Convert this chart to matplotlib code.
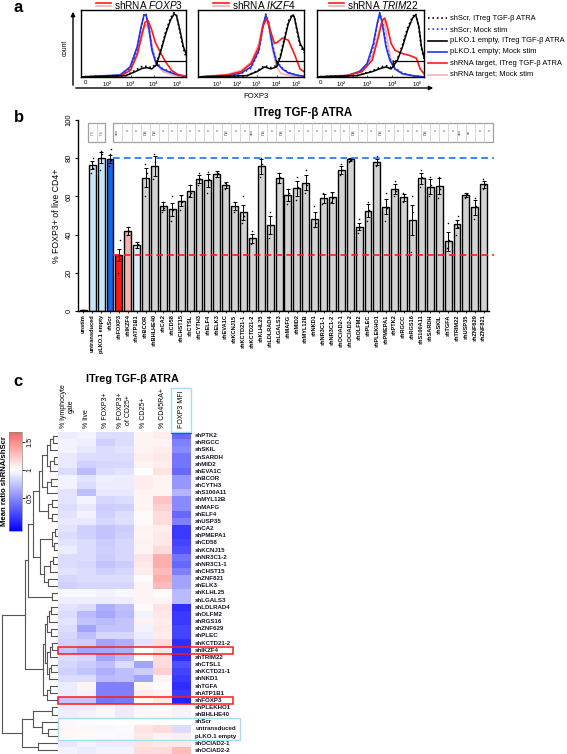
import numpy as np
import matplotlib
matplotlib.use('Agg')
import matplotlib.pyplot as plt
from matplotlib.patches import Rectangle, FancyArrowPatch
from matplotlib.lines import Line2D
from matplotlib.colors import Normalize
from matplotlib.cm import ScalarMappable

plt.rcParams['font.family'] = ['Liberation Sans', 'DejaVu Sans']
plt.rcParams['mathtext.fontset'] = 'custom'
plt.rcParams['mathtext.rm'] = 'Liberation Sans'
plt.rcParams['mathtext.it'] = 'Liberation Sans:italic'
plt.rcParams['mathtext.bf'] = 'Liberation Sans:bold'

W, H = 567, 754

# ---------------- panel a: FOXP3 histograms (x in decades, y in % of max) ----------------
foxp3_hist = {
    'mock_x': [0.9, 2.55, 2.98, 3.28, 3.45, 3.57, 3.66, 3.79, 3.91, 4.09, 4.34, 4.68, 5.02, 5.36],
    'plko_mock': [0, 3, 15, 45, 75, 92, 93, 70, 40, 20, 12, 7, 3, 1],
    'scr_mock': [0, 2, 12, 40, 72, 94, 95, 72, 42, 22, 13, 8, 3, 1],
    'itreg_x': [0.9, 2.8, 3.2, 3.5, 3.7, 3.9, 4.1, 4.3, 4.5, 4.7, 4.85, 4.95, 5.1, 5.25, 5.36],
    'plko_itreg': [0, 2, 8, 13, 14, 12, 18, 40, 65, 85, 94, 92, 70, 45, 35],
    'scr_itreg': [0, 2, 10, 16, 16, 14, 20, 42, 68, 88, 96, 93, 68, 42, 30],
    'target_itreg_x': [0.9, 2.6, 3.0, 3.3, 3.5, 3.62, 3.75, 3.9, 4.05, 4.25, 4.5, 4.75, 5.0, 5.36],
    'target_itreg': [0, 2, 10, 35, 65, 82, 84, 70, 52, 38, 22, 10, 4, 1],
    'target_mock_x': [0.9, 2.6, 3.0, 3.3, 3.5, 3.65, 3.8, 3.95, 4.1, 4.4, 4.8, 5.36],
    'target_mock': [0, 3, 14, 40, 68, 78, 70, 40, 18, 8, 3, 1],
}
ikzf4_hist = {
    'mock_x': [0, 1.5, 2.2, 2.7, 3.1, 3.3, 3.45, 3.6, 3.8, 4.0, 4.3, 4.6, 5.0, 5.4],
    'plko_mock': [0, 2, 6, 15, 40, 75, 92, 80, 45, 22, 12, 6, 3, 1],
    'scr_mock': [0, 2, 5, 13, 38, 72, 94, 82, 48, 24, 13, 7, 3, 1],
    'itreg_x': [0, 2.5, 3.0, 3.4, 3.7, 4.0, 4.2, 4.4, 4.6, 4.8, 4.9, 5.05, 5.2, 5.4],
    'plko_itreg': [0, 2, 8, 15, 12, 15, 30, 55, 80, 92, 90, 70, 50, 40],
    'scr_itreg': [0, 2, 9, 17, 14, 17, 33, 58, 83, 94, 91, 68, 47, 36],
    'target_itreg_x': [0, 1.5, 2.2, 2.7, 3.1, 3.3, 3.5, 3.7, 3.9, 4.05, 4.3, 4.6, 4.9, 5.2, 5.4],
    'target_itreg': [0, 3, 8, 20, 45, 75, 88, 68, 50, 52, 58, 55, 35, 12, 8],
    'target_mock_x': [0, 1.5, 2.2, 2.7, 3.1, 3.3, 3.45, 3.6, 3.8, 4.0, 4.2, 4.5, 5.0, 5.4],
    'target_mock': [0, 4, 10, 22, 50, 80, 88, 75, 40, 15, 6, 3, 1, 0],
}
trim22_hist = {
    'mock_x': [1.02, 2.2, 2.7, 3.0, 3.25, 3.4, 3.5, 3.6, 3.75, 3.9, 4.1, 4.4, 4.8, 5.25],
    'plko_mock': [0, 2, 8, 20, 50, 80, 95, 80, 45, 25, 12, 5, 2, 0],
    'scr_mock': [0, 2, 7, 18, 46, 78, 96, 83, 48, 27, 13, 6, 2, 0],
    'itreg_x': [1.02, 2.6, 3.2, 3.55, 3.75, 3.95, 4.2, 4.4, 4.6, 4.8, 4.92, 5.05, 5.15, 5.25],
    'plko_itreg': [0, 2, 8, 13, 15, 12, 25, 45, 70, 88, 93, 75, 45, 30],
    'scr_itreg': [0, 2, 9, 15, 17, 14, 27, 48, 73, 90, 95, 72, 42, 27],
    'target_itreg_x': [1.02, 2.2, 2.8, 3.2, 3.45, 3.6, 3.7, 3.8, 3.95, 4.1, 4.4, 4.7, 4.95, 5.1, 5.25],
    'target_itreg': [0, 2, 8, 25, 60, 85, 88, 75, 50, 40, 35, 32, 28, 12, 5],
    'target_mock_x': [1.02, 2.3, 2.8, 3.2, 3.45, 3.6, 3.68, 3.8, 3.95, 4.1, 4.4, 5.25],
    'target_mock': [0, 3, 10, 30, 65, 85, 83, 55, 25, 12, 4, 0],
}
hist_genes = ['FOXP3', 'IKZF4', 'TRIM22']
hist_ticks = [[1.06, 2, 3, 4, 5], [1, 2, 3, 4, 5], [1.14, 1.97, 3, 4, 4.98]]
hist_ticklabels = [['0', '$10^2$', '$10^3$', '$10^4$', '$10^5$'],
                   ['$10^1$', '$10^2$', '$10^3$', '$10^4$', '$10^5$'],
                   ['0', '$10^2$', '$10^3$', '$10^4$', '$10^5$']]
gate_start = [4.1, 4.0, 4.03]
gate_level = 24

legend_labels = ['shScr, ITreg TGF-β ATRA', 'shScr; Mock stim', 'pLKO.1 empty, ITreg TGF-β ATRA',
                 'pLKO.1 empty; Mock stim', 'shRNA target, ITreg TGF-β ATRA', 'shRNA target; Mock stim']

# ---------------- panel b: bar chart ----------------
bar_labels = ['unstim', 'untransduced', 'pLKO.1 empty', 'shScr', 'shFOXP3', 'shIKZF4', 'shATP1B1',
              'shBCOR', 'shBHLHE40', 'shCA2', 'shCD58', 'shCHST15', 'shCTSL', 'shCYTH3', 'shELF4',
              'shELK3', 'shEVA1C', 'shKCNJ15', 'shKCTD21-1', 'shKCTD21-2', 'shKLHL25', 'shLDLRAD4',
              'shLGALS3', 'shMAFG', 'shMID2', 'shMYL12B', 'shNKD1', 'shNR3C1-1', 'shNR3C1-2',
              'shOCIAD2-1', 'shOCIAD2-2', 'shOLFM2', 'shPLEC', 'shPLEKHO1', 'shPMEPA1', 'shPTK2',
              'shRGCC', 'shRGS16', 'shS100A11', 'shSARDH', 'shSKIL', 'shTGFA', 'shTRIM22', 'shUSP35',
              'shZNF629', 'shZNF821']
bar_means = [0.5, 76.4, 80.3, 79.6, 29.3, 42.0, 34.6, 69.8, 75.9, 55.0, 53.2, 57.8, 62.8, 69.1, 68.4,
             71.6, 66.0, 55.0, 51.7, 38.0, 75.8, 45.0, 69.5, 60.7, 64.2, 67.2, 48.0, 59.0, 59.5,
             73.8, 79.4, 44.2, 52.5, 78.2, 54.6, 63.9, 59.5, 47.6, 69.5, 65.1, 65.4, 36.6, 45.4, 60.7,
             54.3, 66.3]
bar_sem = [0.2, 2.0, 3.0, 2.0, 3.0, 2.0, 1.5, 5.0, 5.0, 2.0, 3.5, 3.0, 3.0, 2.0, 3.5, 1.5, 1.5, 2.0,
           4.0, 2.5, 4.0, 4.5, 2.5, 3.0, 4.0, 4.0, 4.0, 2.5, 3.0, 2.0, 0.8, 2.0, 3.5, 1.5, 4.0, 2.5,
           2.0, 8.0, 3.0, 4.0, 4.0, 5.0, 2.0, 1.0, 4.0, 2.0]
bar_reps = [[0.3, 0.5, 0.7], [72, 75, 78, 80], [74, 82, 84], [76, 79, 82, 85], [20, 27, 30, 37],
            [40, 42, 44], [33, 35, 36], [60, 72, 77], [69, 78, 82], [52, 54, 57], [47, 53, 60],
            [53, 57, 60], [60, 62, 66], [66, 69, 72], [62, 69, 73], [70, 72, 73], [64, 66, 67],
            [52, 55, 57], [46, 50, 60], [35, 38, 42], [70, 77, 80], [38, 45, 52], [67, 70, 72],
            [56, 62, 64], [58, 65, 70], [62, 66, 74], [44, 46, 55], [56, 59, 62], [57, 59, 62],
            [71, 74, 77], [78, 79, 80], [41, 44, 48], [47, 53, 57], [76, 78, 81], [47, 54, 62],
            [60, 63, 68], [57, 59, 62], [31, 52, 60], [65, 70, 74], [60, 66, 70], [59, 64, 70],
            [33, 37, 46], [40, 44, 47, 50], [59, 61, 62], [48, 55, 59], [64, 66, 69]]
control_sig = ['ns', 'ns']
knockdown_sig = ['***', '*', '*', 'ns', 'ns', '*', '*', '*', '*', '*', '*', '*', 'ns', '*', '*', '***',
                 'ns', '*', 'ns', '*', '*', '*', '*', '*', '*', '*', 'ns', '*', '*', 'ns', '*', '*',
                 '*', '*', 'ns', '*', '*', '*', '***', '**', '*', '*']
scr_level = 80
foxp3_level = 29.3

# ---------------- panel c: heatmap ----------------
heat_cols = ['% lymphocyte\ngate', '% live', '% FOXP3+', '% FOXP3+\nof CD25+', '% CD25+',
             '% CD45RA+', 'FOXP3 MFI']
heat_rows = ['shPTK2', 'shRGCC', 'shSKIL', 'shSARDH', 'shMID2', 'shEVA1C', 'shBCOR', 'shCYTH3',
             'shS100A11', 'shMYL12B', 'shMAFG', 'shELF4', 'shUSP35', 'shCA2', 'shPMEPA1', 'shCD58',
             'shKCNJ15', 'shNR3C1-2', 'shNR3C1-1', 'shCHST15', 'shZNF821', 'shELK3', 'shKLHL25',
             'shLGALS3', 'shLDLRAD4', 'shOLFM2', 'shRGS16', 'shZNF629', 'shPLEC', 'shKCTD21-2',
             'shIKZF4', 'shTRIM22', 'shCTSL1', 'shKCTD21-1', 'shNKD1', 'shTGFA', 'shATP1B1',
             'shFOXP3', 'shPLEKHO1', 'shBHLHE40', 'shScr', 'untransduced', 'pLKO.1 empty',
             'shOCIAD2-1', 'shOCIAD2-2']
heat_vals = [
    [0.92, 0.95, 0.85, 0.85, 1.05, 1.08, 0.35],
    [0.95, 0.93, 0.80, 0.85, 1.05, 1.05, 0.45],
    [0.95, 0.90, 0.85, 0.88, 1.06, 1.08, 0.50],
    [0.90, 0.85, 0.85, 0.85, 1.08, 1.10, 0.40],
    [0.90, 0.80, 0.82, 0.83, 1.06, 1.08, 0.40],
    [0.85, 0.70, 0.85, 0.88, 1.00, 1.12, 0.35],
    [0.95, 0.88, 0.93, 0.92, 1.08, 1.05, 0.55],
    [0.95, 0.85, 0.92, 0.92, 1.08, 1.05, 0.55],
    [0.88, 0.72, 0.90, 0.90, 1.06, 1.05, 0.68],
    [0.88, 0.95, 0.82, 0.85, 1.05, 1.25, 0.50],
    [0.85, 0.90, 0.78, 0.80, 1.05, 1.20, 0.50],
    [0.88, 0.95, 0.80, 0.85, 1.02, 1.15, 0.35],
    [0.90, 0.90, 0.82, 0.86, 1.03, 1.15, 0.45],
    [0.88, 0.80, 0.75, 0.78, 1.06, 1.08, 0.15],
    [0.85, 0.80, 0.75, 0.80, 1.05, 1.10, 0.15],
    [0.88, 0.85, 0.78, 0.82, 1.06, 1.10, 0.20],
    [0.92, 0.85, 0.80, 0.82, 1.05, 1.15, 0.25],
    [0.85, 0.85, 0.78, 0.82, 1.12, 1.35, 0.40],
    [0.85, 0.82, 0.75, 0.78, 1.10, 1.35, 0.35],
    [0.88, 0.85, 0.80, 0.82, 1.08, 1.30, 0.45],
    [0.82, 0.85, 0.85, 0.85, 1.02, 1.35, 0.60],
    [0.80, 0.82, 0.82, 0.82, 1.05, 1.30, 0.60],
    [0.97, 0.97, 0.95, 0.97, 1.05, 1.02, 0.70],
    [0.93, 0.93, 0.92, 0.93, 1.05, 1.05, 0.70],
    [0.88, 0.85, 0.65, 0.72, 1.02, 1.12, 0.10],
    [0.85, 0.70, 0.62, 0.70, 0.95, 1.10, 0.15],
    [0.88, 0.75, 0.70, 0.75, 1.06, 1.08, 0.15],
    [0.85, 0.60, 0.75, 0.75, 0.95, 1.10, 0.20],
    [0.82, 0.72, 0.82, 0.82, 0.92, 1.08, 0.20],
    [0.80, 0.78, 0.60, 0.65, 0.88, 1.15, 0.10],
    [0.75, 0.60, 0.62, 0.65, 1.00, 1.12, 0.10],
    [0.85, 0.82, 0.60, 0.70, 1.00, 1.15, 0.10],
    [0.82, 0.78, 0.72, 0.85, 0.60, 1.15, 0.25],
    [0.80, 0.75, 0.65, 0.72, 0.78, 1.20, 0.20],
    [0.85, 0.85, 0.70, 0.72, 0.60, 1.05, 0.15],
    [0.92, 1.05, 0.45, 0.45, 1.05, 0.98, 0.10],
    [0.92, 0.95, 0.45, 0.45, 1.08, 1.05, 0.15],
    [0.75, 0.75, 0.40, 0.42, 1.04, 1.10, 0.05],
    [0.92, 0.92, 0.97, 0.92, 1.04, 1.02, 0.95],
    [0.93, 0.95, 0.97, 0.92, 1.02, 1.03, 0.95],
    [0.97, 0.98, 1.00, 1.00, 1.00, 1.00, 1.00],
    [1.04, 1.03, 0.97, 0.98, 1.12, 1.15, 0.85],
    [1.03, 1.02, 0.98, 0.97, 1.10, 1.05, 1.07],
    [0.90, 0.95, 0.92, 0.92, 1.12, 1.10, 1.10],
    [0.95, 0.92, 0.95, 0.95, 1.15, 1.15, 1.30],
]
# row dendrogram: (child a, child b, merge position in px from left); new nodes numbered from 45
dendro_merges = [
    (0, 1, 53), (45, 2, 50), (3, 4, 54), (47, 5, 50), (46, 48, 47), (6, 7, 51), (50, 8, 47),
    (49, 51, 42), (9, 10, 52), (11, 12, 52), (53, 54, 48), (52, 55, 39), (13, 14, 55),
    (15, 16, 54), (57, 58, 52), (17, 18, 53), (60, 19, 50), (20, 21, 48), (61, 62, 44),
    (59, 63, 40), (56, 64, 33), (22, 23, 52), (65, 66, 28), (24, 25, 51), (68, 26, 49),
    (27, 28, 51), (69, 70, 47), (29, 30, 52), (72, 31, 50), (32, 33, 51), (74, 34, 49),
    (73, 75, 47), (71, 76, 45), (35, 36, 50), (78, 37, 47), (77, 79, 43), (67, 80, 25),
    (38, 39, 52), (41, 42, 48), (40, 83, 42), (82, 84, 33), (43, 44, 38), (85, 86, 22),
    (81, 87, 2),
]
red_box_rows = ['shIKZF4', 'shFOXP3']
control_rows = ['shScr', 'untransduced', 'pLKO.1 empty']

# ---------------- drawing ----------------
fig = plt.figure(figsize=(W / 100, H / 100), dpi=100)


def px_axes(x0, y0, x1, y1):
    return fig.add_axes([x0 / W, 1 - y1 / H, (x1 - x0) / W, (y1 - y0) / H])


def fpt(x, y):
    return (x / W, 1 - y / H)


BLUE = '#2233ee'
RED = '#ff1a1a'
PINK = '#f5b3b3'

# panel letters
for letter, (lx, ly) in zip('abc', [(13, 7), (14, 118), (13, 381)]):
    fig.text(*fpt(lx, ly), letter, fontsize=12, fontweight='bold', va='center', ha='left')

# --- panel a ---
hist_boxes = [(81, 186), (198, 304), (317, 424)]
hist_xlims = [(0.89, 5.36), (0.0, 5.4), (1.02, 5.25)]
title_icons = [(96, 111), (213, 229), (329, 344)]
for k, hist in enumerate([foxp3_hist, ikzf4_hist, trim22_hist]):
    x0, x1 = hist_boxes[k]
    ax = px_axes(x0, 10, x1, 77)
    ax.plot(hist['target_mock_x'], hist['target_mock'], color=PINK, lw=1.3)
    ax.plot(hist['mock_x'], hist['plko_mock'], color=BLUE, lw=1.2)
    ax.plot(hist['mock_x'], hist['scr_mock'], color=BLUE, lw=1.2, ls=':')
    ax.plot(hist['target_itreg_x'], hist['target_itreg'], color=RED, lw=1.2)
    ax.plot(hist['itreg_x'], hist['plko_itreg'], color='black', lw=1.1)
    ax.plot(hist['itreg_x'], hist['scr_itreg'], color='black', lw=1.2, ls=':')
    ax.plot([gate_start[k], hist_xlims[k][1]], [gate_level, gate_level], color='black', lw=0.9)
    ax.plot([gate_start[k], gate_start[k] + 0.05], [gate_level, gate_level - 7], color='black', lw=0.9)
    ax.set_xlim(*hist_xlims[k])
    ax.set_ylim(0, 100)
    ax.set_yticks([])
    ax.set_xticks(hist_ticks[k])
    ax.set_xticklabels(hist_ticklabels[k], fontsize=4.4)
    ax.tick_params(axis='x', direction='in', length=1.5, width=0.5, pad=2)
    for s in ax.spines.values():
        s.set_linewidth(1.0)
    ix0, ix1 = title_icons[k]
    fig.add_artist(Line2D([ix0 / W, ix1 / W], [1 - 3.3 / H, 1 - 3.3 / H], color=RED, lw=1.2))
    fig.add_artist(Line2D([ix0 / W, ix1 / W], [1 - 6.0 / H, 1 - 6.0 / H], color=PINK, lw=1.2))
    fig.text(*fpt(ix1 + 3, 5), r'shRNA $\it{%s}$' % hist_genes[k], fontsize=7.2, va='center', ha='left')

# overall axes arrows for panel a
fig.add_artist(FancyArrowPatch(fpt(73, 88), fpt(73, 9), transform=fig.transFigure,
                               arrowstyle='-|>', mutation_scale=6, lw=1.0, color='black'))
fig.add_artist(FancyArrowPatch(fpt(73, 88), fpt(436, 88), transform=fig.transFigure,
                               arrowstyle='-|>', mutation_scale=6, lw=1.0, color='black'))
fig.text(*fpt(65, 48), 'count', fontsize=4.8, rotation=90, va='center', ha='center')
fig.text(*fpt(256, 97), 'FOXP3', fontsize=5.6, va='center', ha='center')

# legend for panel a
leg_styles = [('black', ':'), (BLUE, ':'), ('black', '-'), (BLUE, '-'), (RED, '-'), (PINK, '-')]
for j, ((c, ls), lab) in enumerate(zip(leg_styles, legend_labels)):
    ly = 18 + j * 11.3
    fig.add_artist(Line2D([428 / W, 447 / W], [1 - ly / H, 1 - ly / H], color=c, ls=ls, lw=1.2))
    fig.text(*fpt(450, ly), lab, fontsize=5.4, va='center', ha='left')

# --- panel b ---
axb = px_axes(78, 120, 489, 311)
xpos = np.arange(len(bar_labels))
bar_colors = ['white', '#c9e6f8', '#c9e6f8', '#1766e6', RED, '#f5b2ad', '#dcedf8'] + \
             ['#d3d3d3'] * (len(bar_labels) - 7)
axb.bar(xpos, bar_means, width=0.78, color=bar_colors, edgecolor='black', linewidth=1.0, zorder=2)
axb.errorbar(xpos, bar_means, yerr=bar_sem, fmt='none', ecolor='black', elinewidth=0.7,
             capsize=1.4, capthick=0.7, zorder=3)
jitter = [-0.12, 0.1, -0.02, 0.14]
for i, reps in enumerate(bar_reps):
    axb.scatter([i + jitter[j] for j in range(len(reps))], reps, s=1.2, color='black',
                zorder=4, linewidths=0)
axb.hlines(scr_level, 3.3, 46.2, colors='#1f6fe8', linestyles=(0, (4, 2.5)), lw=1.2,
           clip_on=False, zorder=5)
axb.hlines(foxp3_level, 3.3, 46.2, colors=RED, linestyles=(0, (4, 2.5)), lw=1.2,
           clip_on=False, zorder=5)
axb.set_xlim(-0.6, 45.6)
axb.set_ylim(0, 100)
axb.spines['top'].set_visible(False)
axb.spines['right'].set_visible(False)
axb.spines['left'].set_linewidth(1.0)
axb.spines['bottom'].set_linewidth(1.0)
axb.set_yticks([0, 20, 40, 60, 80, 100])
axb.set_yticklabels(['0', '20', '40', '60', '80', '100'], rotation=90, va='center', fontsize=5.4)
axb.tick_params(axis='y', length=2.5, width=0.8, pad=1.5)
axb.set_xticks(xpos)
axb.set_xticklabels(bar_labels, rotation=90, fontsize=4.1, fontweight='bold')
axb.tick_params(axis='x', length=1.5, width=0.6, pad=1)
axb.set_ylabel('% FOXP3+ of live CD4+', fontsize=6.3, labelpad=3)
fig.text(*fpt(303, 113), 'ITreg TGF-β ATRA', fontsize=8.3, fontweight='bold', ha='center', va='center')

# significance boxes
sig_y0, sig_y1 = 88.5, 98.5
gx0, gx1 = 0.56, 2.48
gw = (gx1 - gx0) / len(control_sig)
axb.add_patch(Rectangle((gx0, sig_y0), gx1 - gx0, sig_y1 - sig_y0, fill=False, ec='#a0a0a0',
                        lw=0.9, clip_on=False))
for j, s in enumerate(control_sig):
    cx = gx0 + gw * (j + 0.5)
    if j > 0:
        axb.plot([gx0 + gw * j] * 2, [sig_y0, sig_y1], color='#c0c0c0', lw=0.5, clip_on=False)
    axb.text(cx, (sig_y0 + sig_y1) / 2, s, fontsize=3.4, rotation=90, color='#808080',
             ha='center', va='center')
kx0, kx1 = 3.38, 46.1
kw = (kx1 - kx0) / len(knockdown_sig)
axb.add_patch(Rectangle((kx0, sig_y0), kx1 - kx0, sig_y1 - sig_y0, fill=False, ec='#a0a0a0',
                        lw=0.9, clip_on=False))
for j, s in enumerate(knockdown_sig):
    cx = kx0 + kw * (j + 0.5)
    if j > 0:
        axb.plot([kx0 + kw * j] * 2, [sig_y0, sig_y1], color='#c8c8c8', lw=0.5, clip_on=False)
    axb.text(cx, (sig_y0 + sig_y1) / 2, s, fontsize=3.6, rotation=0 if s == '*' else 90,
             color='#808080', ha='center', va='center', fontweight='bold')

# --- panel c ---
fig.text(*fpt(132, 379), 'ITreg TGF-β ATRA', fontsize=7.8, fontweight='bold', ha='center', va='center')
norm = Normalize(vmin=-0.1, vmax=2.1)
axh = px_axes(58, 432, 191, 754)
axh.imshow(np.array(heat_vals), cmap='bwr', norm=norm, aspect='auto', interpolation='nearest')
axh.set_xlim(-0.5, 6.5)
axh.set_ylim(len(heat_rows) - 0.5, -0.5)
axh.axis('off')
for i, r in enumerate(heat_rows):
    axh.text(6.72, i, r, fontsize=4.4, va='center', ha='left', color='#14142a',
             fontweight='bold', clip_on=False)
for j, c in enumerate(heat_cols):
    axh.text(j, -1.1, c, fontsize=5.0, rotation=90, va='bottom', ha='center',
             multialignment='center', clip_on=False)
for r in red_box_rows:
    i = heat_rows.index(r)
    axh.add_patch(Rectangle((-0.5, i - 0.5), 9.2, 1.0, fill=False, ec=RED, lw=1.1, clip_on=False))
i0 = heat_rows.index(control_rows[0])
axh.add_patch(Rectangle((-0.5, i0 - 0.5), 9.6, len(control_rows), fill=False, ec='#a8dcf5',
                        lw=1.0, clip_on=False))
# box around the FOXP3 MFI label
fig.add_artist(Rectangle((171 / W, 1 - 432 / H), 20 / W, 44 / H, transform=fig.transFigure,
                         fill=False, ec='#a8dcf5', lw=1.0))
fig.add_artist(Line2D([171 / W, 191 / W], [1 - 432.5 / H] * 2, color='#3050c0', lw=0.8))

# dendrogram
axd = px_axes(0, 432, 58, 754)
node_y = {i: float(i) for i in range(len(heat_rows))}
node_x = {i: 57.5 for i in range(len(heat_rows))}
for n, (a, b, mx) in enumerate(dendro_merges):
    nid = len(heat_rows) + n
    axd.plot([mx, mx], [node_y[a], node_y[b]], color='#555555', lw=0.8)
    axd.plot([mx, node_x[a]], [node_y[a], node_y[a]], color='#555555', lw=0.8)
    axd.plot([mx, node_x[b]], [node_y[b], node_y[b]], color='#555555', lw=0.8)
    node_y[nid] = (node_y[a] + node_y[b]) / 2
    node_x[nid] = mx
axd.set_xlim(0, 58)
axd.set_ylim(len(heat_rows) - 0.5, -0.5)
axd.axis('off')

# colour bar
cax = px_axes(9, 432, 22, 531)
sm = ScalarMappable(norm=norm, cmap='bwr')
cb = fig.colorbar(sm, cax=cax, boundaries=np.linspace(-0.1, 1.68, 200))
cb.set_ticks([0.5, 1, 1.5])
cb.set_ticklabels(['0.5', '1', '1.5'])
cb.outline.set_linewidth(0.5)
cb.outline.set_edgecolor('#888888')
cax.tick_params(labelsize=5.2, length=2, width=0.6, pad=1.5)
for t in cax.get_yticklabels():
    t.set_rotation(90)
    t.set_va('center')
fig.text(*fpt(5, 481), 'Mean ratio shRNA/shScr', fontsize=5.6, fontweight='bold', rotation=90,
         ha='center', va='center')

fig.savefig('out.png', dpi=100)
